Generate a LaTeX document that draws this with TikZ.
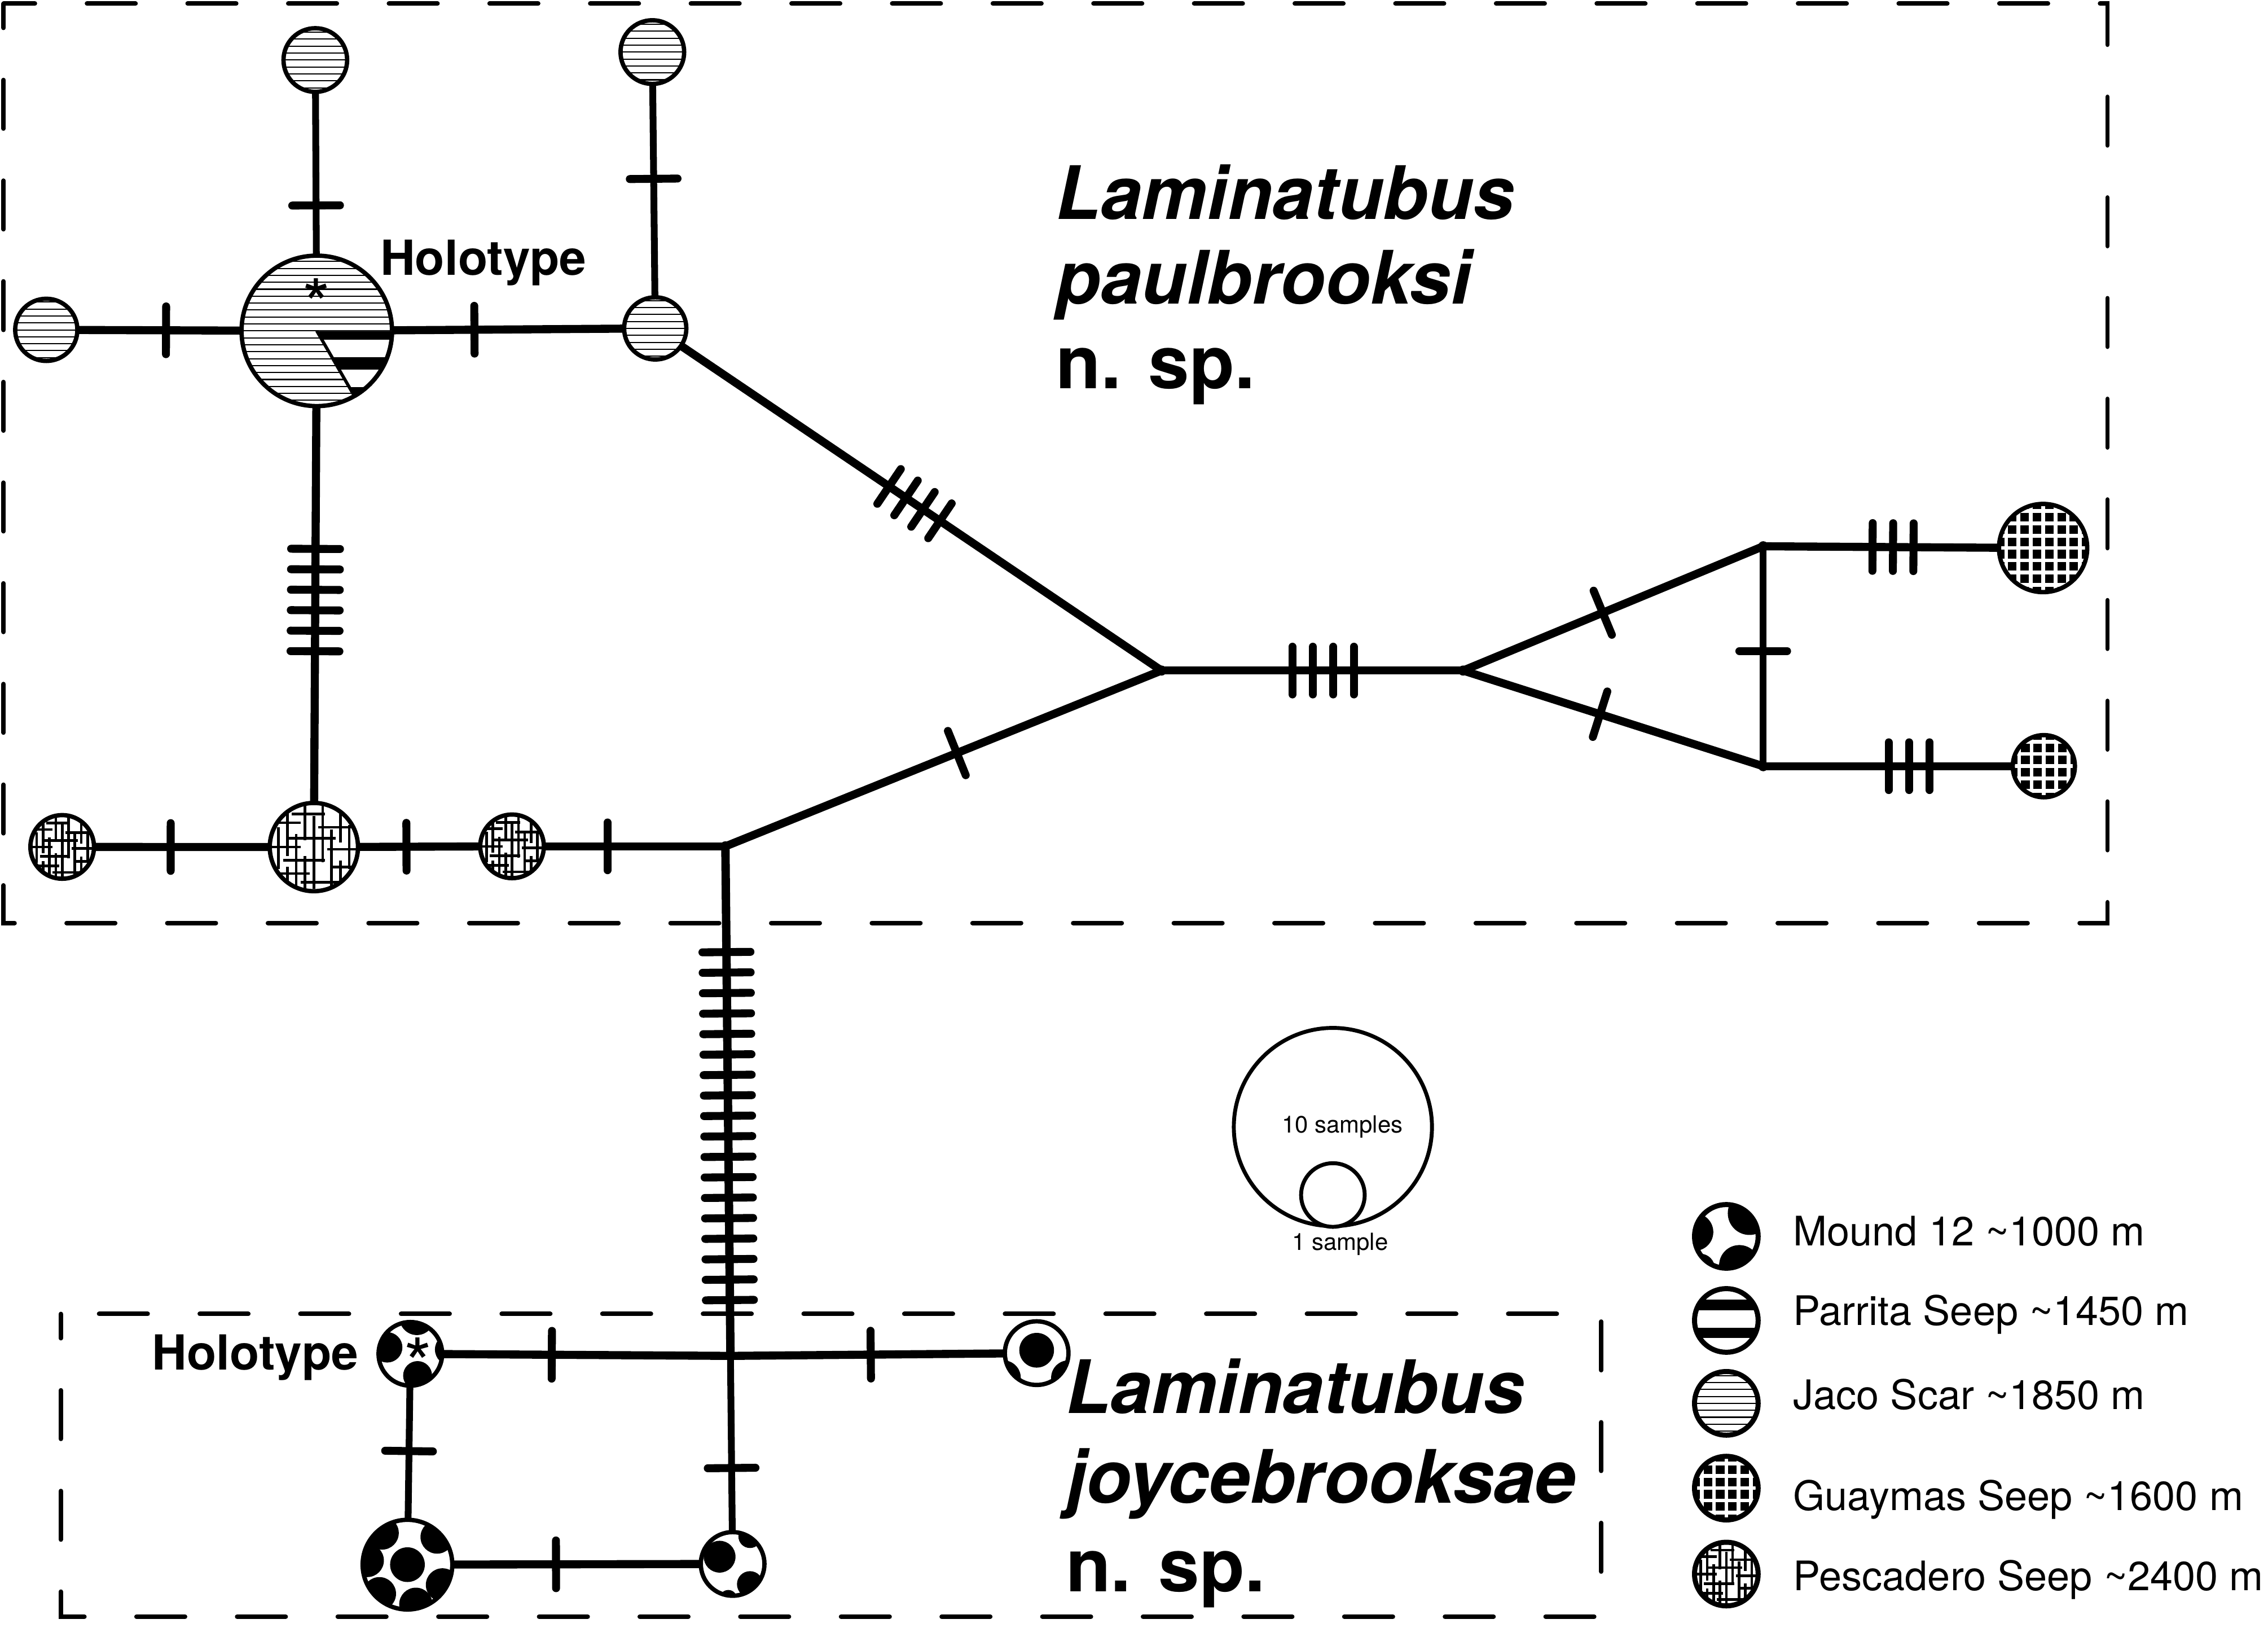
\documentclass[tikz,border=0pt]{standalone}
\usepackage{fontspec}
\setmainfont{TeX Gyre Heros}
\usetikzlibrary{calc}
\newdimen\hpx
\hpx=0.02cm

\newcommand\pescmaze[1]{%
  \foreach \xx/\ya/\yb in {-0.8/-0.45/0.5, -0.6/-0.85/0.2, -0.6/0.45/0.85, -0.4/-0.3/0.95,
      -0.2/-0.95/-0.15, -0.2/0.2/0.95, 0.0/-0.7/0.95, 0.2/-0.95/0.35, 0.4/-0.4/0.95,
      0.6/-0.85/-0.1, 0.6/0.3/0.8, 0.8/-0.5/0.5}
    \draw[line width=1.8*\hpx] ($(path picture bounding box.center)+(\xx*#1,\ya*#1)$) -- ($(path picture bounding box.center)+(\xx*#1,\yb*#1)$);
  \foreach \yy/\xa/\xb in {-0.75/-0.5/0.25, -0.55/-0.9/-0.3, -0.45/0.1/0.9, -0.2/-0.6/0.5,
      0.0/-0.95/-0.3, 0.05/0.3/0.95, 0.3/-0.7/0.25, 0.45/0.4/0.9, 0.6/-0.9/-0.1, 0.8/-0.3/0.6}
    \draw[line width=1.8*\hpx] ($(path picture bounding box.center)+(\xa*#1,\yy*#1)$) -- ($(path picture bounding box.center)+(\xb*#1,\yy*#1)$);
}

\newcommand\tks[5]{%
  \foreach \k in {1,...,#4}{%
    \pgfmathsetmacro\tkd{(#3+(\k-1)*14.15)*0.02}%
    \pgfmathsetmacro\tkh{#5*0.02}%
    \draw[tk] ($(#1)!\tkd cm!(#2)!\tkh cm!90:(#2)$) -- ($(#1)!\tkd cm!(#2)!\tkh cm!-90:(#2)$);
  }}

\tikzset{
  hap/.style={circle, draw=black, fill=white, line width=3*\hpx, inner sep=0pt, outer sep=0pt, minimum size=2*#1*\hpx},
  jaco/.style={hap=#1, path picture={\foreach \k in {-12,...,12} \draw[line width=0.8*\hpx] ($(path picture bounding box.center)+(-60,\k*4.8)$) -- ++(120,0);}},
  parr/.style 2 args={hap=#1, path picture={\foreach \ya/\yb in {#2} \fill[black] ($(path picture bounding box.center)+(-40,\ya)$) rectangle ($(path picture bounding box.center)+(40,\yb)$);}},
  guay/.style 2 args={hap=#1, fill=black, path picture={\foreach \k in {-6,...,6} {\draw[white, line width=2.6*\hpx] ($(path picture bounding box.center)+(\k*#2,-40)$) -- ++(0,80); \draw[white, line width=2.6*\hpx] ($(path picture bounding box.center)+(-40,\k*#2)$) -- ++(80,0);}}},
  pesc/.style={hap=#1, path picture={\pescmaze{#1}}},
  mound/.style 2 args={hap=#1, path picture={\foreach \dx/\dy/\rr in {#2} \fill[black] ($(path picture bounding box.center)+(\dx,\dy)$) circle[radius=\rr*\hpx];}},
  jn/.style={circle, fill=black, inner sep=0pt, outer sep=0pt, minimum size=7*\hpx},
  thk/.style={line width=5.6*\hpx},
  thn/.style={line width=4.7*\hpx},
  tk/.style={line width=5.5*\hpx, line cap=round},
  dbox/.style={line width=3.1*\hpx, dash pattern=on 0.672cm off 0.72cm, dash phase=0.336cm, line cap=round},
  ttl/.style={font=\fontsize{29}{34}\selectfont\bfseries, inner sep=0pt, anchor=base west},
  holo/.style={font=\fontsize{19}{22}\selectfont\bfseries, inner sep=0pt},
  leg/.style={font=\fontsize{16}{19}\selectfont, inner sep=0pt, anchor=base west},
  smp/.style={font=\fontsize{9.3}{11}\selectfont, inner sep=0pt, anchor=base},
  ast/.style={font=\fontsize{28}{30}\selectfont, inner sep=0pt, anchor=base},
  legsym/.style={line width=3.5*\hpx},
}

\begin{document}
\begin{tikzpicture}[x=0.02cm, y=-0.02cm]
\useasboundingbox (0,0) rectangle (1568,1125);

% dashed frames
\draw[dbox] (2.5,2.5) rectangle (1457,638);
\draw[dbox] (42,908.2) rectangle (1107,1117.4);

% haplotype nodes
\node[jaco=52] (J1) at (219,228.7) {};
\node[jaco=22] (J2) at (218,41.5) {};
\node[jaco=21.5] (J3) at (32,228) {};
\node[jaco=21.5] (J4) at (453,227) {};
\node[jaco=22] (J5) at (451,36) {};
\node[pesc=30.5] (P1) at (217,585.5) {};
\node[pesc=22] (P2) at (43,585.4) {};
\node[pesc=22] (P3) at (354,585) {};
\node[jn] (A) at (501.5,585) {};
\node[jn] (B) at (803,463.5) {};
\node[jn] (C) at (1011.5,463.5) {};
\node[jn] (T1) at (1219,377.6) {};
\node[jn] (T2) at (1219,529.6) {};
\node[guay={30.5}{8.5}] (G1) at (1412.5,378.8) {};
\node[guay={21.5}{8.5}] (G2) at (1413,529.6) {};
\node[jn] (D) at (505,937.2) {};
\node[mound={22}{-16/-4.5/10.5, 4.5/-25/12, 5/15/10, 28/-3/11}] (M1) at (283.7,935.8) {};
\node[mound={22}{0/-2/12, -20/-23/10, 20/-23/10, -23/17/12, 22/17/12}] (M2) at (716.7,935.3) {};
\node[mound={31}{0/0/12, -17.5/-21.9/11.5, 20.5/-19.1/11.5, -27.8/-2.9/11.5, -19.4/20.1/11.5, 24.2/14/11.5, 5.8/27.4/11.5}] (M3) at (281.7,1081.5) {};
\node[mound={22}{-9/-5/11, 12/-19/8, 12/14/9, -3/24/6}] (M4) at (506.5,1081) {};

% Parrita wedge in holotype haplotype
\begin{scope}
  \clip (J1.center) -- ++(0:52) arc[start angle=0, end angle=60, radius=52] -- cycle;
  \fill[white] ($(J1.center)+(-5,-5)$) rectangle ($(J1.center)+(60,60)$);
  \foreach \ya/\yb in {0/6, 18.2/26.6, 39/44.5}
    \fill[black] ($(J1.center)+(0,\ya)$) rectangle ($(J1.center)+(60,\yb)$);
\end{scope}
\draw[line width=2.2*\hpx] (J1.center) -- ++(60:52);
\draw[line width=3*\hpx] ($(J1.center)+(0:52)$) arc[start angle=0, end angle=60, radius=52];

% connectors
\draw[thn] (J2) -- (J1);
\draw[thk] (J3) -- (J1);
\draw[thk] (J1) -- (J4);
\draw[thn] (J5) -- (J4);
\draw[thk] (J4) -- (B.center);
\draw[thk] (J1) -- (P1);
\draw[thk] (P2) -- (P1);
\draw[thk] (P1) -- (P3);
\draw[thk] (P3) -- (A.center);
\draw[thk] (A.center) -- (B.center);
\draw[thk] (B.center) -- (C.center);
\draw[thk] (C.center) -- (T1.center);
\draw[thk] (C.center) -- (T2.center);
\draw[thn] (T1.center) -- (T2.center);
\draw[thk] (T1.center) -- (G1);
\draw[thk] (T2.center) -- (G2);
\draw[line width=5.8*\hpx] (A.center) -- (D.center);
\draw[thk] (M1) -- (D.center);
\draw[thk] (D.center) -- (M2);
\draw[thn] (M1) -- (M3);
\draw[thn] (D.center) -- (M4);
\draw[thk] (M3) -- (M4);

% mutation ticks
\tks{J2}{J1}{100.5}{1}{16.5}
\tks{J3}{J1}{82.8}{1}{16.5}
\tks{J1}{J4}{109}{1}{16.5}
\tks{J5}{J4}{87.6}{1}{16.5}
\tks{J4}{B}{195.1}{4}{14.5}
\tks{J1}{P1}{150.7}{6}{16.9}
\tks{P2}{P1}{75}{1}{16.5}
\tks{P1}{P3}{64}{1}{16.5}
\tks{P3}{A}{66}{1}{16.5}
\tks{A}{B}{172.5}{1}{16.5}
\tks{B}{C}{90.5}{4}{16.5}
\tks{C}{T1}{104.5}{1}{16.5}
\tks{C}{T2}{99.4}{1}{16.5}
\tks{T1}{T2}{72.4}{1}{16.5}
\tks{T1}{G1}{75.6}{3}{16.5}
\tks{T2}{G2}{86.7}{3}{16.5}
\tks{A}{D}{73.1}{18}{16.6}
\tks{M1}{D}{97.8}{1}{16.5}
\tks{D}{M2}{97}{1}{16.5}
\tks{M1}{M3}{67.2}{1}{16.5}
\tks{D}{M4}{77.5}{1}{16.5}
\tks{M3}{M4}{102.7}{1}{16.5}

% asterisks and labels
\node[ast] (a1) at (219,228.4) {*};
\node[ast] (a2) at (289,960.4) {*};
\node[holo, anchor=base west] (h1) at (262.6,190) {Holotype};
\node[holo, anchor=base east] (h2) at (248,947) {Holotype};

\node[ttl] (s1) at (729.5,151.7) {\itshape Laminatubus};
\node[ttl] (s2) at (729.5,210.2) {\itshape paulbrooksi};
\node[ttl] (s3) at (729.5,268.4) {n. sp.};
\node[ttl] (s4) at (736.5,977) {\itshape Laminatubus};
\node[ttl] (s5) at (736.5,1039) {\itshape joycebrooksae};
\node[ttl] (s6) at (736.5,1100) {n. sp.};

% sample-size legend
\node[hap=68.5, line width=2.7*\hpx] (S10) at (921.5,779) {};
\node[hap=22, line width=2.7*\hpx] (S1) at (921.5,826) {};
\node[smp] (s10t) at (928,783) {10 samples};
\node[smp] (s1t) at (926.5,864) {1 sample};

% locality legend
\node[mound={22}{-22/-3/13, 16/-16/15, 9/20/14, -18/22/10}, legsym] (L1) at (1193.5,854.6) {};
\node[parr={22}{-14.5/-7, 5/12}, legsym] (L2) at (1193.5,912.7) {};
\node[jaco=22, legsym] (L3) at (1193.5,970) {};
\node[guay={22}{8.5}, legsym] (L4) at (1193.5,1028.6) {};
\node[pesc=22, legsym] (L5) at (1193.5,1088) {};
\node[leg] (lt1) at (1239.5,861) {Mound 12 \textasciitilde1000 m};
\node[leg] (lt2) at (1239.5,916) {Parrita Seep \textasciitilde1450 m};
\node[leg] (lt3) at (1239.5,974) {Jaco Scar \textasciitilde1850 m};
\node[leg] (lt4) at (1239.5,1044) {Guaymas Seep \textasciitilde1600 m};
\node[leg] (lt5) at (1239.5,1099.5) {Pescadero Seep \textasciitilde2400 m};
\end{tikzpicture}
\end{document}
